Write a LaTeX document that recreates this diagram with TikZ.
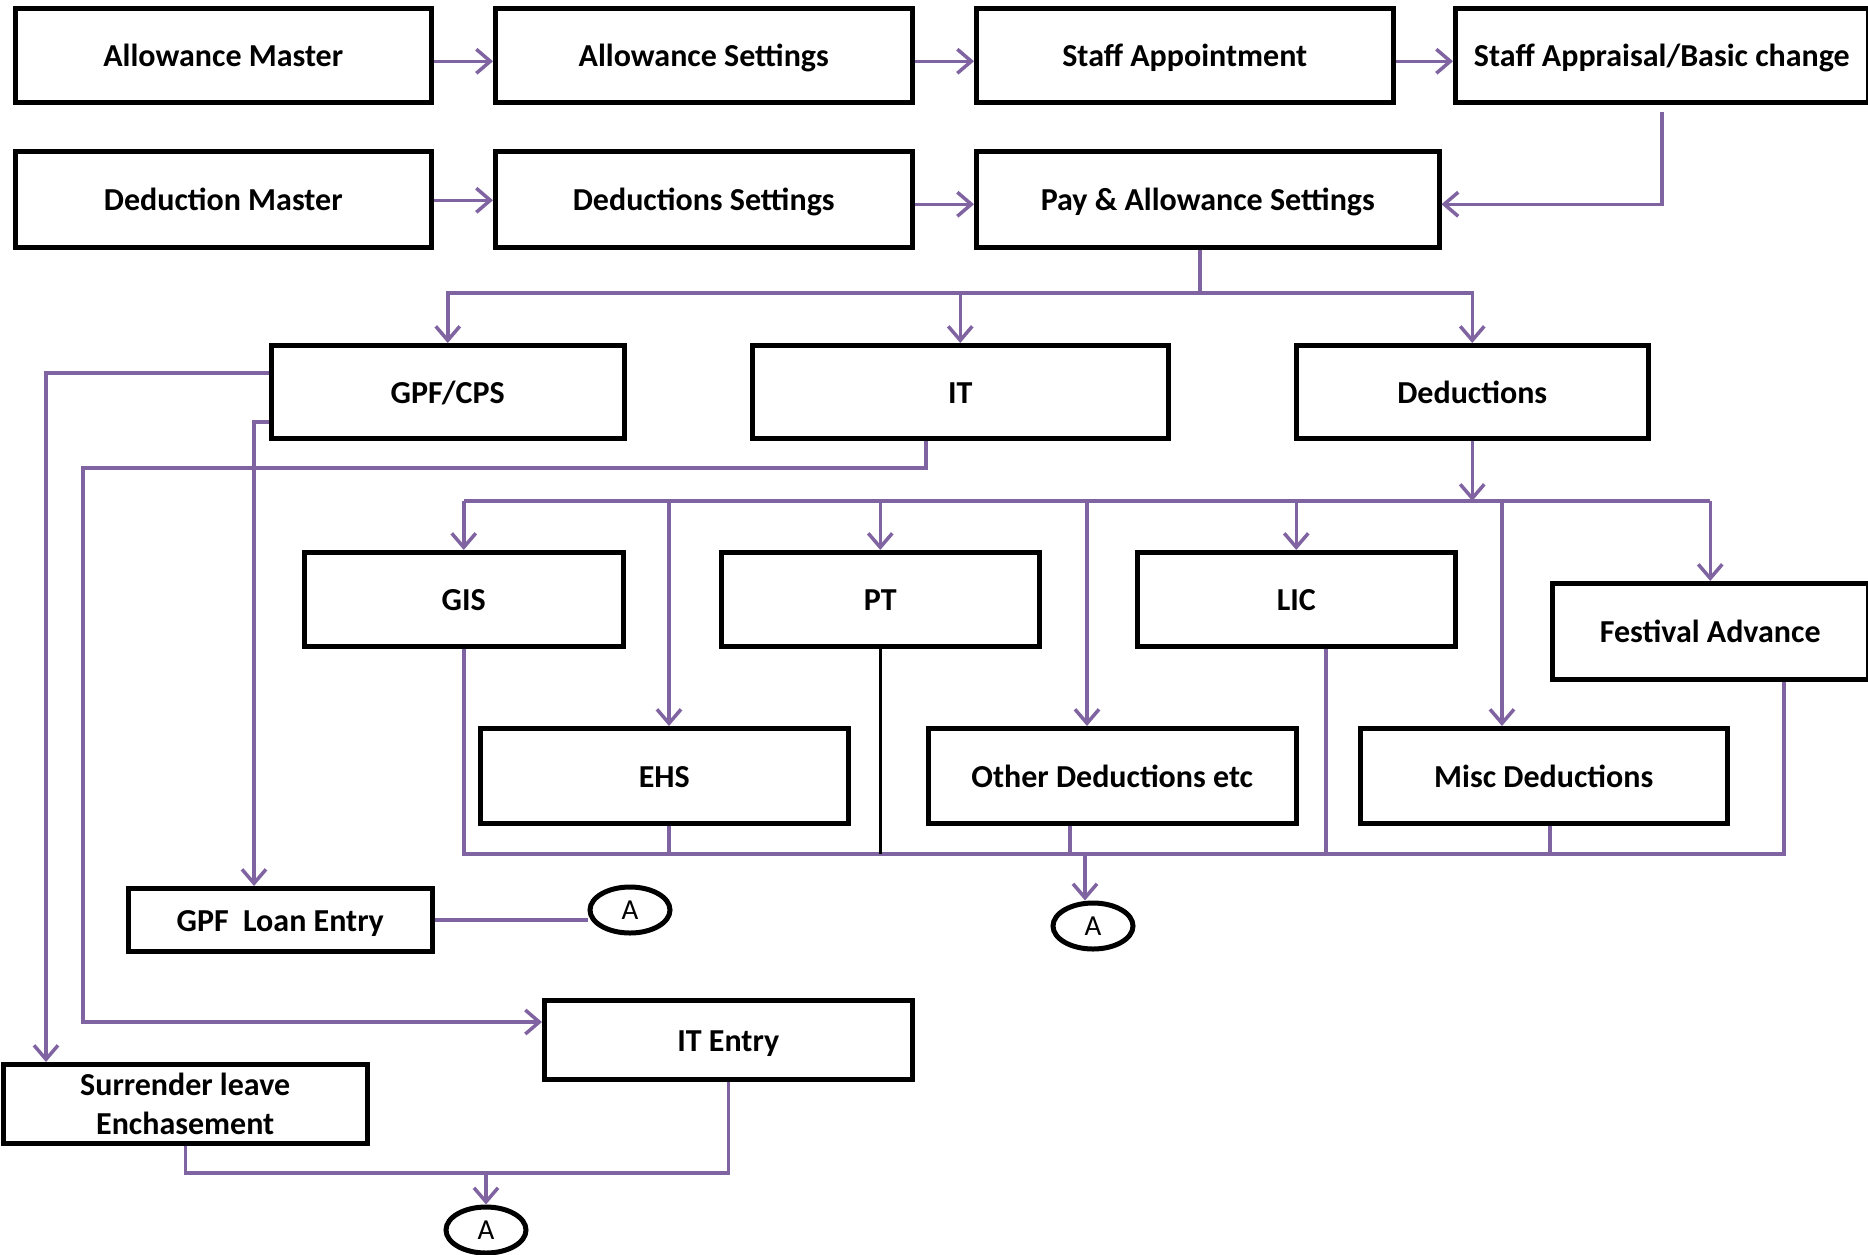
\documentclass[tikz,border=0pt]{standalone}
\usepackage{fontspec}
\setmainfont{Carlito}
\usetikzlibrary{arrows.meta,shapes.geometric}
\definecolor{pur}{HTML}{8064A2}
\tikzset{
  boxbase/.style={draw=black, line width=4.5pt, rectangle, inner sep=0pt,
    font=\fontsize{32}{39}\selectfont\bfseries, align=center, anchor=north west},
  box/.style={boxbase, text height=28pt, text depth=5pt},
  circ/.style={draw=black, line width=5pt, ellipse, inner sep=0pt,
    minimum width=80pt, minimum height=46pt, font=\fontsize{29}{32}\selectfont},
  ln/.style={draw=pur, line width=3.5pt},
  arr/.style={ln, -{Straight Barb[length=14pt,width=24pt,line width=3.5pt]}},
}
\newcommand{\bx}[7][box]{\node[#1, minimum width=#5pt-#3pt, minimum height=#6pt-#4pt] (#2) at (#3,#4) {#7};}
\begin{document}
\begin{tikzpicture}[x=1pt,y=-1pt]
\useasboundingbox (0,0) rectangle (1868,1254);
% nodes
\bx{am}{13}{6}{429}{100}{Allowance Master}
\bx{as}{493}{6}{910}{100}{Allowance Settings}
\bx{sa}{974}{6}{1391}{100}{Staff Appointment}
\bx{sb}{1453}{6}{1866}{100}{Staff Appraisal/Basic change}
\bx{dm}{13}{149}{429}{245}{Deduction Master}
\bx{ds}{493}{149}{910}{245}{Deductions Settings}
\bx{pa}{974}{149}{1437}{245}{Pay \& Allowance Settings}
\bx{gpf}{269}{343}{622}{436}{GPF/CPS}
\bx{it}{750}{343}{1166}{436}{IT}
\bx{ded}{1294}{343}{1646}{436}{Deductions}
\bx{gis}{302}{550}{621}{644}{GIS}
\bx{pt}{719}{550}{1037}{644}{PT}
\bx{lic}{1135}{550}{1453}{644}{LIC}
\bx{fa}{1550}{581}{1866}{677}{Festival Advance}
\bx{ehs}{478}{726}{846}{821}{EHS}
\bx{oth}{926}{726}{1294}{821}{Other Deductions etc}
\bx{misc}{1358}{726}{1725}{821}{Misc Deductions}
\bx{gle}{126}{886}{430}{949}{GPF~ Loan Entry}
\bx{ite}{542}{998}{910}{1077}{IT Entry}
\bx[boxbase]{sle}{1}{1062}{365}{1141}{Surrender leave\\Enchasement}
\node[circ] (a1) at (630,910) {A};
\node[circ] (a2) at (1093,926) {A};
\node[circ] (a3) at (486,1230) {A};
% top rows
\draw[arr] ([yshift=-6pt]am.east) -- ([yshift=-6pt]as.west);
\draw[arr] ([yshift=-6pt]as.east) -- ([yshift=-6pt]sa.west);
\draw[arr] ([yshift=-6pt]sa.east) -- ([yshift=-6pt]sb.west);
\draw[arr] ([yshift=-1pt]dm.east) -- ([yshift=-1pt]ds.west);
\draw[arr] ([yshift=-5pt]ds.east) -- ([yshift=-5pt]pa.west);
\draw[arr] ([yshift=-7pt]sb.south) |- ([yshift=-5pt]pa.east);
% branch from pay settings
\coordinate (j1) at (pa.south |- 0,293);
\draw[ln] ([xshift=-8pt]pa.south) -- ([xshift=-8pt]j1);
\draw[arr] ([xshift=-8pt]j1) -| (gpf.north);
\draw[arr] ([xshift=-8pt]j1) -| (ded.north);
\draw[arr] (it.north |- j1) -- (it.north);
% GPF lines
\draw[arr] (gpf.west |- 0,373) -| (sle.north -| 46,0);
\draw[arr] (gpf.west |- 0,422) -| (gle.north -| 254,0);
% IT line
\draw[arr] (it.south -| 926,0) |- (83,468) |- (ite.west |- 0,1022);
% deductions branch
\coordinate (j2) at (ded.south |- 0,501);
\draw[arr] (ded.south) -- (j2);
\draw[ln] (gis.north |- j2) -- (fa.north |- j2);
\draw[arr] (gis.north |- j2) -- (gis.north);
\draw[arr] (ehs.north -| 669,0) ++(0,-225) -- (ehs.north -| 669,0);
\draw[arr] (pt.north |- j2) -- (pt.north);
\draw[arr] (oth.north -| 1087,0) ++(0,-225) -- (oth.north -| 1087,0);
\draw[arr] (lic.north |- j2) -- (lic.north);
\draw[arr] (misc.north -| 1502,0) ++(0,-225) -- (misc.north -| 1502,0);
\draw[arr] (fa.north |- j2) -- (fa.north);
% collector
\coordinate (j3) at (0,854);
\draw[ln] (gis.south) -- (gis.south |- j3) -- (j3 -| 1784,0) -- (fa.south -| 1784,0);
\draw[ln] (ehs.south -| 669,0) -- (j3 -| 669,0);
\draw[black, line width=3pt] (pt.south) -- (pt.south |- j3);
\draw[ln] (oth.south -| 1070,0) -- (j3 -| 1070,0);
\draw[ln] (lic.south -| 1326,0) -- (j3 -| 1326,0);
\draw[ln] (misc.south -| 1550,0) -- (j3 -| 1550,0);
\draw[arr] (j3 -| 1085,0) -- (a2.north -| 1085,0);
% bottom
\draw[ln] (gle.east) -- (gle.east -| a1.west);
\coordinate (j4) at (0,1173);
\draw[ln] (sle.south) |- (ite.south |- j4) -- (ite.south);
\draw[arr] (a3.north |- j4) -- (a3.north);
\end{tikzpicture}
\end{document}
